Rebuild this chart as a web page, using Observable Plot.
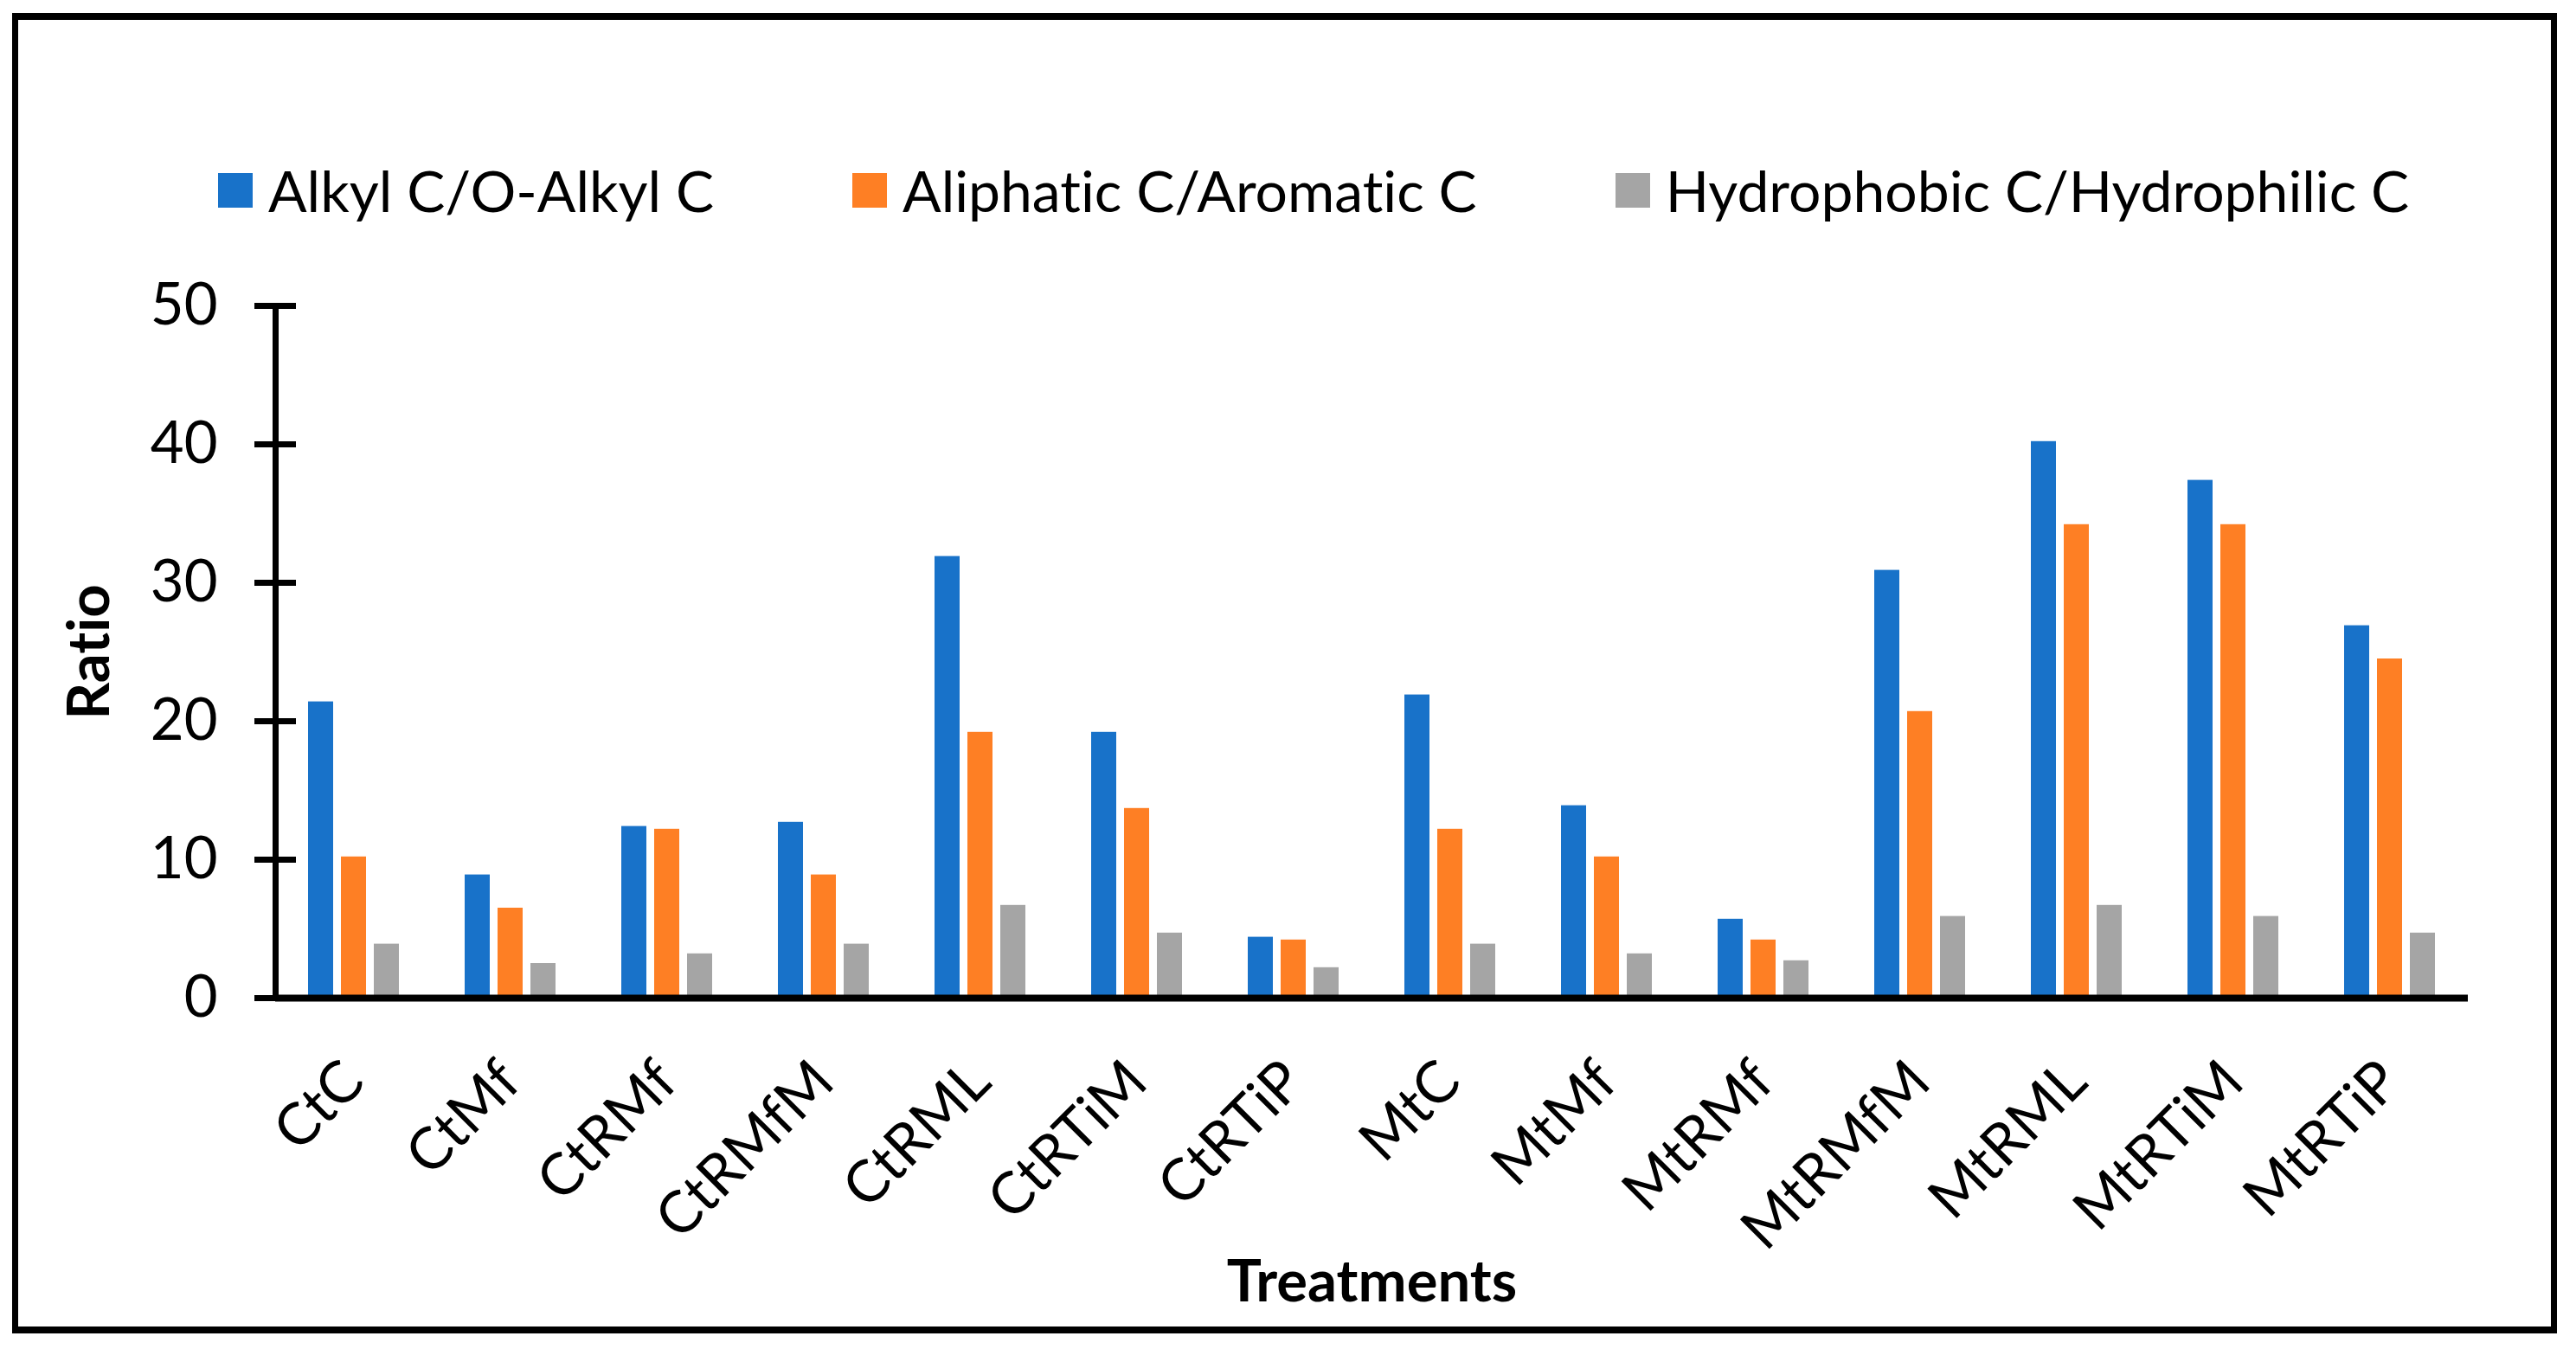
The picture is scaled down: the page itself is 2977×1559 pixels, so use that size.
<!DOCTYPE html>
<html>
<head>
<meta charset="utf-8">
<script src="https://cdn.jsdelivr.net/npm/d3@7"></script>
<script src="https://cdn.jsdelivr.net/npm/@observablehq/plot@0.6"></script>
<style>
  html, body { margin: 0; padding: 0; background: #fff; }
  * { font-variant-ligatures: none; font-feature-settings: "liga" 0, "clig" 0; }
  #fig { position: relative; width: 2977px; height: 1559px; background: #fff; overflow: hidden;
         font-family: Lato, "Liberation Sans", sans-serif; }
  #frame { position: absolute; left: 14px; top: 15px; width: 2941px; height: 1526px;
           box-sizing: border-box; border: 7px solid #000; border-top-width: 8px; border-bottom-width: 8px; }
  #legend { position: absolute; left: 252px; top: 180px; display: flex; align-items: center; gap: 160px;
            font-size: 66px; color: #000; }
  .item { display: flex; align-items: center; gap: 18px; white-space: nowrap; }
  .sw { width: 40px; height: 40px; display: inline-block; }
  #chart { position: absolute; left: 0; top: 280px; }
  #chart svg { font-family: Lato, "Liberation Sans", sans-serif; }
  #chart text { font-variant-ligatures: none; }
  #chart [aria-label="y-axis label"] text, #chart [aria-label="fx-axis label"] text { font-weight: bold; }
</style>
</head>
<body>
<div id="fig">
  <div id="frame"></div>
  <div id="legend"></div>
  <div id="chart"></div>
</div>
<script>
// ---- data ----
const treatments = ["CtC","CtMf","CtRMf","CtRMfM","CtRML","CtRTiM","CtRTiP","MtC","MtMf","MtRMf","MtRMfM","MtRML","MtRTiM","MtRTiP"];
const seriesNames = ["Alkyl C/O-Alkyl C", "Aliphatic C/Aromatic C", "Hydrophobic C/Hydrophilic C"];
const seriesColors = ["#1872c9", "#fe7f24", "#a5a5a5"];
const alkylRatio      = [21.4, 8.9, 12.4, 12.7, 31.9, 19.2, 4.4, 21.9, 13.9, 5.7, 30.9, 40.2, 37.4, 26.9];
const aliphaticRatio  = [10.2, 6.5, 12.2, 8.9, 19.2, 13.7, 4.2, 12.2, 10.2, 4.2, 20.7, 34.2, 34.2, 24.5];
const hydrophobicRatio = [3.9, 2.5, 3.2, 3.9, 6.7, 4.7, 2.2, 3.9, 3.2, 2.7, 5.9, 6.7, 5.9, 4.7];
const yTicks = [0, 10, 20, 30, 40, 50];
const xTitle = "Treatments";
const yTitle = "Ratio";

const seriesValues = [alkylRatio, aliphaticRatio, hydrophobicRatio];
const rows = [];
treatments.forEach((t, i) => seriesNames.forEach((s, j) => rows.push({treatment: t, series: s, value: seriesValues[j][i]})));

// ---- legend ----
const legend = document.getElementById("legend");
seriesNames.forEach((s, j) => {
  const item = document.createElement("div");
  item.className = "item";
  const sw = document.createElement("span");
  sw.className = "sw";
  sw.style.background = seriesColors[j];
  const label = document.createElement("span");
  label.textContent = s;
  item.append(sw, label);
  legend.append(item);
});

// ---- chart ----
const chart = Plot.plot({
  width: 2977,
  height: 1279,
  marginLeft: 312,
  marginRight: 120,
  marginTop: 73,
  marginBottom: 406,
  style: {fontSize: "67px", color: "#000", background: "transparent", overflow: "visible"},
  fx: {domain: treatments, paddingInner: 0, paddingOuter: 0},
  x: {domain: seriesNames, paddingInner: 0.25, paddingOuter: 0.955, axis: null},
  y: {domain: [0, 50]},
  color: {domain: seriesNames, range: seriesColors},
  marks: [
    Plot.barY(rows, {fx: "treatment", x: "series", y: "value", fill: "series"}),
    Plot.ruleY([0], {stroke: "#000", strokeWidth: 8}),
    Plot.frame({anchor: "left", facetAnchor: "left", stroke: "#000", strokeWidth: 7}),
    Plot.axisY({
      ticks: yTicks, tickFormat: d => String(d), tickSize: 48, dx: 24, tickPadding: 43,
      strokeWidth: 7, stroke: "#000", fontSize: 67,
      label: yTitle, labelAnchor: "center", labelOffset: 240, labelArrow: false
    }),
    Plot.axisFx({
      anchor: "bottom", tickSize: 0, tickPadding: 85, tickRotate: -45, fontSize: 67,
      label: xTitle, labelAnchor: "center", labelOffset: 350
    })
  ]
});
document.getElementById("chart").append(chart);
</script>
</body>
</html>
